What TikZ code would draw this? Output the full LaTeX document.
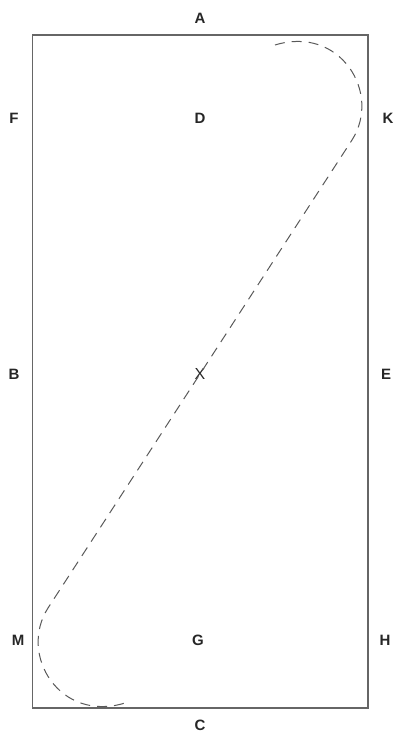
\documentclass[tikz,border=0pt]{standalone}
\usepackage{fontspec}
\setmainfont{Liberation Sans}
\begin{document}
\begin{tikzpicture}[x=1pt,y=-1pt,
  lbl/.style={font=\fontsize{15}{15}\selectfont\bfseries, text=black!85, inner sep=0pt},
  arena/.style={draw=black!60, line width=1.2pt},
  track/.style={draw=black!65, line width=1pt, dash pattern=on 10pt off 7pt}]
\useasboundingbox (0,0) rectangle (398,735);
\draw[arena] (32.5,35) rectangle (368,708);
\node[lbl] (A) at (200,18) {A};
\node[lbl] (F) at (14,118) {F};
\node[lbl] (D) at (200,118) {D};
\node[lbl] (K) at (388,118) {K};
\node[lbl] (B) at (14,374) {B};
\node[inner sep=0pt, font=\fontsize{16}{16}\selectfont, text=black!85] (X) at (200,374) {X};
\node[lbl] (E) at (386,374) {E};
\node[lbl] (M) at (18,640) {M};
\node[lbl] (G) at (198,640) {G};
\node[lbl] (H) at (385,640) {H};
\node[lbl] (C) at (200,725) {C};
\draw[track] (275,45) .. controls (340,25) and (382,93) .. (352,140)
  -- (48,608) .. controls (18,655) and (60,723) .. (125,703);
\end{tikzpicture}
\end{document}
